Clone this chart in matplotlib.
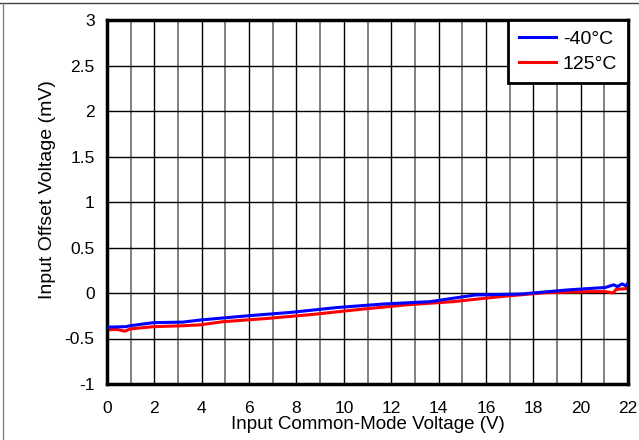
import matplotlib.pyplot as plt
from matplotlib.lines import Line2D

plt.rcParams['font.family'] = ['Liberation Sans', 'DejaVu Sans']

# -40C curve
vcm_cold = [0.0, 0.8, 0.96, 1.96, 3.2, 3.93, 5.83, 7.8, 9.7, 11.67, 13.64, 15.54,
            17.5, 19.41, 20.4, 21.03, 21.4, 21.55, 21.75, 21.9, 22.0]
vos_cold = [-0.375, -0.37, -0.36, -0.326, -0.32, -0.297, -0.253, -0.212, -0.16, -0.121,
            -0.095, -0.022, -0.011, 0.033, 0.05, 0.06, 0.09, 0.07, 0.1, 0.08, 0.11]

# 125C curve
vcm_hot = [0.0, 0.42, 0.76, 0.97, 1.96, 3.2, 3.93, 4.91, 6.74, 8.71, 10.68, 12.65,
           14.62, 16.6, 18.5, 20.4, 21.03, 21.37, 21.5, 22.0]
vos_hot = [-0.405, -0.4, -0.42, -0.395, -0.37, -0.36, -0.35, -0.315, -0.28, -0.235,
           -0.18, -0.13, -0.095, -0.04, 0.003, 0.015, 0.015, 0.0, 0.04, 0.05]

xticks = list(range(0, 23, 2))
yticks = [-1, -0.5, 0, 0.5, 1, 1.5, 2, 2.5, 3]
ytick_labels = ['-1', '-0.5', '0', '0.5', '1', '1.5', '2', '2.5', '3']

fig = plt.figure(figsize=(6.39, 4.4), dpi=100)
ax = fig.add_axes([107 / 639, 1 - 384 / 440, (628 - 107) / 639, (384 - 20) / 440])

ax.plot(vcm_cold, vos_cold, color='#0000ff', lw=2.2, label='-40\u00b0C', zorder=3)
ax.plot(vcm_hot, vos_hot, color='#ff0000', lw=2.2, label='125\u00b0C', zorder=2)

ax.set_xlim(0, 22)
ax.set_ylim(-1, 3)
ax.set_xticks(xticks)
ax.set_xticks(range(1, 22, 2), minor=True)
ax.set_yticks(yticks)
ax.set_yticklabels(ytick_labels)
ax.tick_params(which='both', length=0, labelsize=12.5)
ax.tick_params(axis='y', pad=9)
ax.tick_params(axis='x', pad=12)
ax.grid(which='major', color='black', lw=1.0)
ax.grid(which='minor', axis='x', color='#808080', lw=1.4)
ax.set_axisbelow(True)
for s in ax.spines.values():
    s.set_linewidth(2.5)

ax.set_xlabel('Input Common-Mode Voltage (V)', fontsize=13.5)
ax.xaxis.set_label_coords(0.5, -0.088)
ax.set_ylabel('Input Offset Voltage (mV)', fontsize=14)
ax.yaxis.set_label_coords(-0.098, 0.533)

leg = ax.legend(loc='upper right', borderaxespad=0, fancybox=False, fontsize=14,
                handlelength=1.9, handletextpad=0.35, framealpha=1, borderpad=0.55,
                labelspacing=0.35)
leg.get_frame().set_edgecolor('black')
leg.get_frame().set_linewidth(2)

# outer figure border (top and left)
fig.add_artist(Line2D([0, 1], [1 - 3 / 440, 1 - 3 / 440], color='#404040', lw=1))
fig.add_artist(Line2D([3 / 639, 3 / 639], [0, 1 - 3 / 440], color='#808080', lw=1))

fig.savefig('out.png', dpi=100)
